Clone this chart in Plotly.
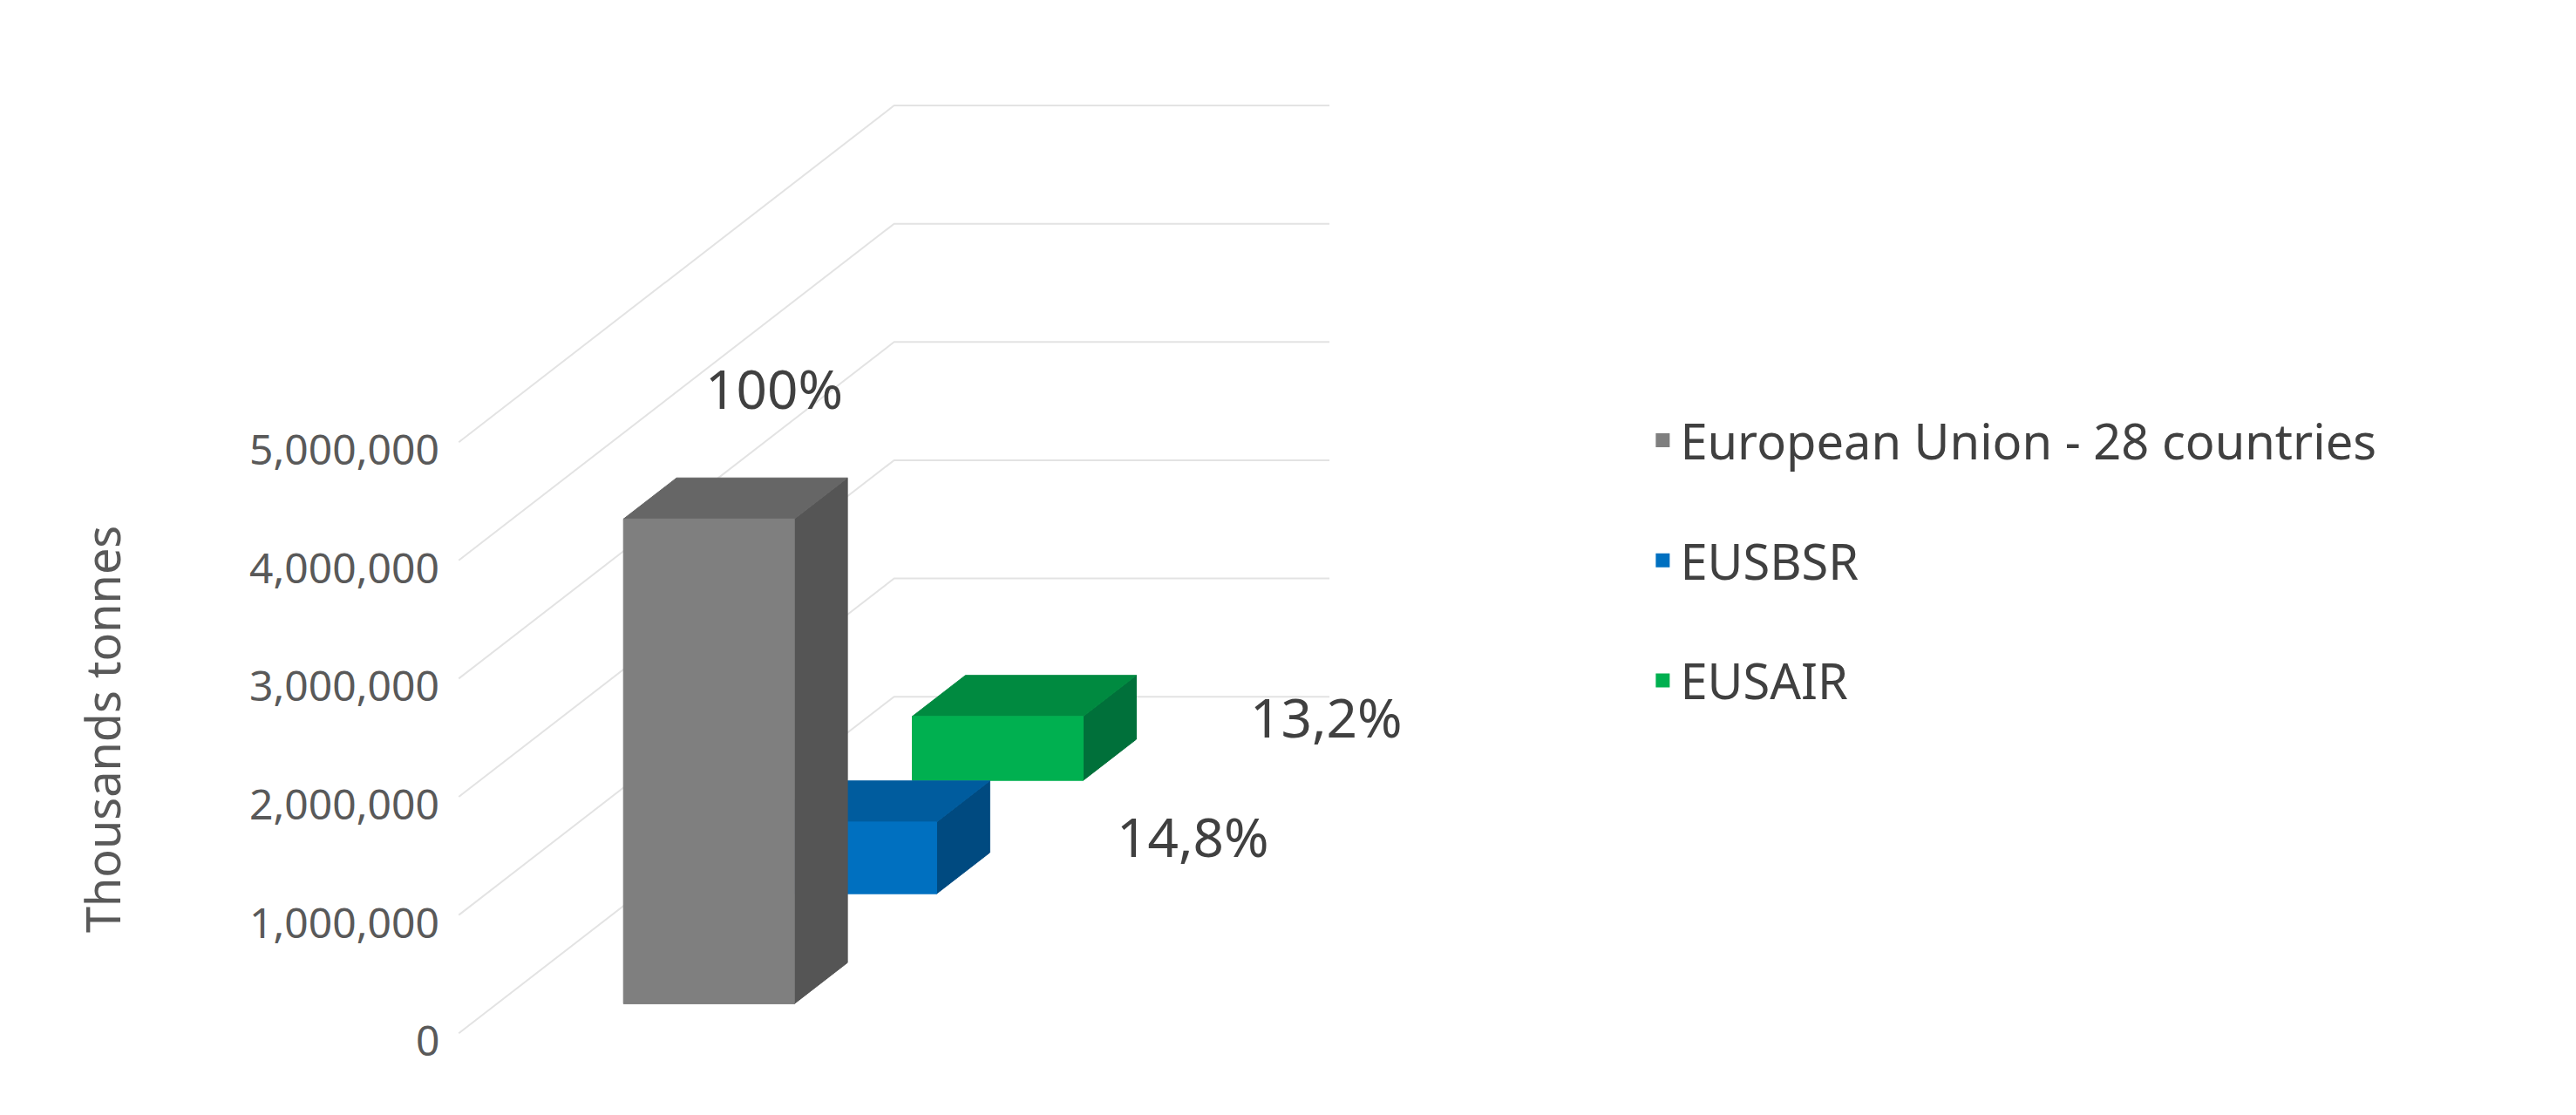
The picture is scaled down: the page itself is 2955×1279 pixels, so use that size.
import plotly.graph_objects as go

# data
series = ["European Union - 28 countries", "EUSBSR", "EUSAIR"]
values = [4100000, 606800, 541200]
pct_labels = ["100%", "14,8%", "13,2%"]
tick_vals = [0, 1000000, 2000000, 3000000, 4000000, 5000000]
tick_text = ["0", "1,000,000", "2,000,000", "3,000,000", "4,000,000", "5,000,000"]

front_cols = ["#7f7f7f", "#0070c0", "#00b050"]
top_cols = ["#666666", "#005c9e", "#008a40"]
side_cols = ["#555555", "#004a80", "#00703a"]

# oblique projection (x in reference px, y in tonnes)
PX_PER_T = 72 / 1e6
DEPTH_DX = 265
DEPTH_DY = 205 / PX_PER_T
depth_pos = [18 / 205, 85 / 205, 154 / 205]
bar_depth = 25 / 205
bar_x0, bar_w = 352, 104


def proj(x, y, z):
    return x + z * DEPTH_DX, y + z * DEPTH_DY


def poly(pts):
    xs = [p[0] for p in pts] + [pts[0][0]]
    ys = [p[1] for p in pts] + [pts[0][1]]
    return xs, ys


fig = go.Figure()

# back wall gridlines
for v in tick_vals:
    a = proj(275, v, 0)
    b = proj(275, v, 1)
    c = (805, b[1])
    fig.add_trace(go.Scatter(x=[a[0], b[0], c[0]], y=[a[1], b[1], c[1]], mode="lines",
                             line=dict(color="#e3e3e3", width=2), showlegend=False, hoverinfo="skip"))

# boxes, back to front
for i in reversed(range(len(series))):
    z0, z1 = depth_pos[i], depth_pos[i] + bar_depth
    v = values[i]
    x0, x1 = bar_x0, bar_x0 + bar_w
    side = [proj(x1, 0, z0), proj(x1, 0, z1), proj(x1, v, z1), proj(x1, v, z0)]
    top = [proj(x0, v, z0), proj(x1, v, z0), proj(x1, v, z1), proj(x0, v, z1)]
    front = [proj(x0, 0, z0), proj(x1, 0, z0), proj(x1, v, z0), proj(x0, v, z0)]
    for pts, col in [(side, side_cols[i]), (top, top_cols[i]), (front, front_cols[i])]:
        xs, ys = poly(pts)
        fig.add_trace(go.Scatter(x=xs, y=ys, fill="toself", fillcolor=col, mode="lines",
                                 line=dict(color=col, width=1), showlegend=False, hoverinfo="skip"))

# legend entries (square swatches)
for i, name in enumerate(series):
    fig.add_trace(go.Scatter(x=[None], y=[None], mode="markers", name=name,
                             marker=dict(symbol="square", size=26, color=front_cols[i]),
                             legendgroup=name, legendrank=i + 1))

# value labels
label_pos = [(467, 232), (722, 505), (803, 432)]
for (px, py), t in zip(label_pos, pct_labels):
    fig.add_annotation(x=px, y=(625 - py) / PX_PER_T, text=t, showarrow=False,
                       font=dict(size=62, color="#404040"))

# tick labels
for v, t in zip(tick_vals, tick_text):
    fig.add_annotation(x=264, y=v - 4 / PX_PER_T, text=t, showarrow=False, xanchor="right",
                       font=dict(size=48, color="#595959"))

fig.add_annotation(x=58, y=(625 - 440) / PX_PER_T, text="Thousands tonnes", textangle=-90,
                   showarrow=False, font=dict(size=54, color="#595959"))

fig.update_layout(
    width=2955, height=1279,
    margin=dict(l=0, r=0, t=0, b=0),
    plot_bgcolor="white", paper_bgcolor="white",
    font=dict(family="Noto Sans"),
    xaxis=dict(range=[0, 1568], visible=False, domain=[0, 1]),
    yaxis=dict(range=[(625 - 679) / PX_PER_T, 625 / PX_PER_T], visible=False, domain=[0, 1]),
    legend=dict(x=0.636, y=0.645, yanchor="top", xanchor="left", traceorder="grouped",
                tracegroupgap=62, font=dict(size=56, color="#404040"), itemwidth=30),
)

fig.write_html("out.html")
